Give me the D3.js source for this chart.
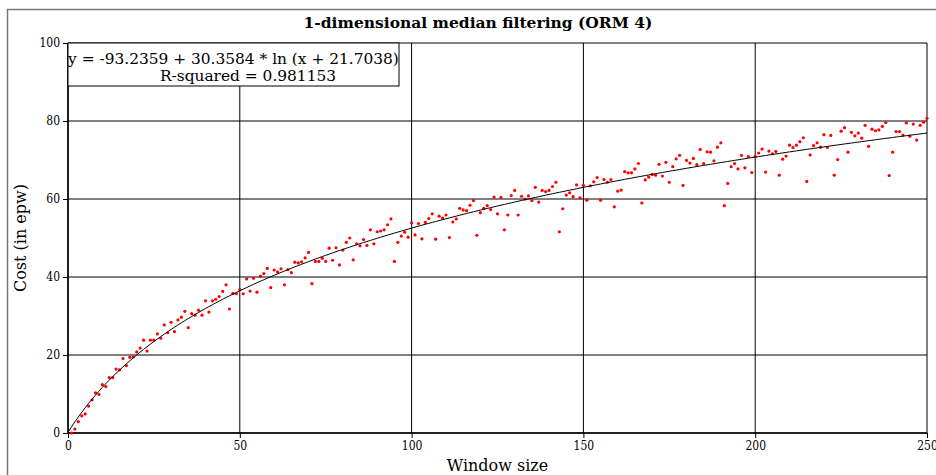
<!DOCTYPE html>
<html>
<head>
<meta charset="utf-8">
<script src="https://cdn.jsdelivr.net/npm/d3@7"></script>
<style>
	body { margin: 0; background: #fff; }
	svg { display: block; }
	.tick text { font-family: 'DejaVu Serif Condensed', 'DejaVu Serif', serif; font-stretch: condensed; font-size: 12px; fill: #000; }
</style>
</head>
<body>
<svg id="chart"></svg>
<script>
	'use strict';

	// cost (in epw) for window sizes 1..250
	var cost = [
		0.0, 1.0, 2.9, 4.4, 4.9, 6.9, 8.5, 10.3, 9.9, 12.4,
		11.9, 14.2, 14.2, 16.4, 16.2, 19.1, 17.3, 19.4, 19.5, 20.8,
		21.8, 23.8, 21.0, 23.8, 23.8, 25.4, 24.3, 27.7, 25.7, 28.4,
		26.0, 29.0, 29.7, 31.2, 27.0, 30.6, 30.2, 31.5, 30.2, 33.9,
		31.0, 33.9, 34.3, 35.0, 36.3, 38.0, 31.8, 35.8, 35.7, 36.8,
		35.7, 39.5, 36.4, 39.7, 36.1, 40.2, 40.9, 42.2, 37.3, 41.8,
		41.3, 42.1, 38.0, 41.9, 41.1, 43.8, 43.6, 43.9, 44.9, 46.3,
		38.3, 44.0, 44.0, 44.8, 44.0, 47.4, 44.3, 47.5, 43.1, 46.9,
		48.9, 50.0, 44.4, 48.5, 48.0, 49.6, 48.1, 52.1, 48.5, 51.6,
		51.8, 52.1, 53.4, 54.9, 44.0, 48.9, 50.5, 51.5, 50.2, 53.9,
		50.8, 53.7, 49.8, 54.0, 55.0, 56.2, 49.7, 55.6, 55.1, 55.9,
		50.1, 54.1, 54.9, 57.6, 57.2, 57.0, 58.4, 59.6, 50.7, 56.5,
		57.6, 58.3, 57.3, 60.5, 56.2, 60.4, 52.1, 55.9, 60.9, 62.2,
		55.9, 60.7, 60.0, 60.8, 59.6, 63.0, 59.2, 62.2, 61.9, 62.2,
		63.2, 64.3, 51.6, 57.5, 61.0, 61.6, 60.6, 63.6, 60.3, 63.5,
		59.7, 63.4, 64.4, 65.5, 59.7, 65.0, 64.3, 65.0, 58.0, 62.0,
		62.3, 67.0, 66.7, 66.7, 67.7, 69.1, 59.0, 64.9, 65.6, 66.3,
		66.1, 68.9, 65.9, 69.4, 64.3, 68.3, 70.3, 71.2, 63.5, 69.9,
		69.2, 70.4, 68.8, 72.7, 69.1, 72.1, 72.0, 69.8, 73.3, 74.4,
		58.3, 64.0, 68.3, 69.1, 67.7, 71.2, 68.0, 70.9, 66.8, 70.9,
		71.8, 72.8, 66.9, 72.3, 71.6, 72.2, 66.1, 70.2, 71.0, 73.8,
		73.2, 73.8, 74.7, 75.7, 64.5, 71.3, 73.7, 74.4, 73.3, 76.5,
		73.2, 76.3, 66.1, 70.1, 77.4, 78.3, 72.0, 77.1, 76.2, 76.9,
		75.6, 78.9, 73.5, 77.9, 77.5, 77.7, 78.6, 79.6, 66.0, 72.0,
		77.3, 77.3, 76.4, 79.5, 76.1, 79.2, 75.1, 78.9, 79.7, 80.7
	];
	var windowSize = d3.range(1, cost.length + 1);

	var xTicks = [0, 50, 100, 150, 200, 250];
	var yTicks = [0, 20, 40, 60, 80, 100];

	// logarithmic fit shown in the legend box
	var fitA = -93.2359, fitB = 30.3584, fitC = 21.7038;
	var rSquared = 0.981153;

	var width = 936, height = 475;
	var margin = {top: 43, right: 9, bottom: 42, left: 68};

	var svg = d3.select('#chart')
		.attr('width', width)
		.attr('height', height);

	// outer frame (cut by the picture edge)
	svg.append('rect')
		.attr('x', 7.5)
		.attr('y', 9.5)
		.attr('width', 1000)
		.attr('height', 1000)
		.attr('fill', 'none')
		.attr('stroke', '#777')
		.attr('stroke-width', 1.5);

	var x = d3.scaleLinear()
		.domain([0, 250])
		.range([margin.left, width - margin.right]);
	var y = d3.scaleLinear()
		.domain([0, 100])
		.range([height - margin.bottom, margin.top]);

	// grid
	svg.append('g')
		.selectAll('line')
		.data(yTicks)
		.enter().append('line')
		.attr('x1', x(0))
		.attr('x2', x(250))
		.attr('y1', function (d) { return y(d); })
		.attr('y2', function (d) { return y(d); })
		.attr('stroke', '#000')
		.attr('stroke-width', 1);
	svg.append('g')
		.selectAll('line')
		.data(xTicks)
		.enter().append('line')
		.attr('x1', function (d) { return x(d); })
		.attr('x2', function (d) { return x(d); })
		.attr('y1', y(0))
		.attr('y2', y(100))
		.attr('stroke', '#000')
		.attr('stroke-width', 1);

	// axes
	var xAxis = svg.append('g')
		.attr('transform', 'translate(0,' + y(0) + ')')
		.call(d3.axisBottom(x).tickValues(xTicks).tickSizeInner(5).tickSizeOuter(0).tickPadding(3));
	var yAxis = svg.append('g')
		.attr('transform', 'translate(' + x(0) + ',0)')
		.call(d3.axisLeft(y).tickValues(yTicks).tickSizeInner(5).tickSizeOuter(0).tickPadding(3));
	xAxis.select('.domain').remove();
	yAxis.select('.domain').remove();

	svg.append('line')
		.attr('x1', x(0)).attr('x2', x(250))
		.attr('y1', y(0)).attr('y2', y(0))
		.attr('stroke', '#000').attr('stroke-width', 1.5);
	svg.append('line')
		.attr('x1', x(0)).attr('x2', x(0))
		.attr('y1', y(0)).attr('y2', y(100))
		.attr('stroke', '#000').attr('stroke-width', 1.5);

	// data points
	svg.append('g')
		.selectAll('circle')
		.data(cost)
		.enter().append('circle')
		.attr('cx', function (d, i) { return x(windowSize[i]); })
		.attr('cy', function (d) { return y(d); })
		.attr('r', 1.6)
		.attr('fill', '#ff0000');

	// fitted curve
	var fitLine = d3.line()
		.x(function (d) { return x(d); })
		.y(function (d) { return y(fitA + fitB * Math.log(d + fitC)); });
	svg.append('path')
		.datum(d3.range(0, 250.5, 1))
		.attr('fill', 'none')
		.attr('stroke', '#000')
		.attr('stroke-width', 1)
		.attr('d', fitLine);

	// legend box with the fit
	svg.append('rect')
		.attr('x', x(0))
		.attr('y', y(100))
		.attr('width', 331)
		.attr('height', 43)
		.attr('fill', '#fff')
		.attr('stroke', '#000')
		.attr('stroke-width', 1);
	var legend = svg.append('g')
		.attr('font-family', 'DejaVu Serif, serif')
		.attr('font-size', 15.4)
		.attr('fill', '#000');
	legend.append('text')
		.attr('x', x(0) + 165.5)
		.attr('y', 64)
		.attr('text-anchor', 'middle')
		.text('y = ' + fitA + ' + ' + fitB + ' * ln (x + ' + fitC + ')');
	legend.append('text')
		.attr('x', 248)
		.attr('y', 81)
		.attr('text-anchor', 'middle')
		.text('R-squared = ' + rSquared);

	// titles
	svg.append('text')
		.attr('x', 478)
		.attr('y', 28)
		.attr('text-anchor', 'middle')
		.attr('font-family', 'DejaVu Serif, serif')
		.attr('font-weight', 'bold')
		.attr('font-size', 15.5)
		.text('1-dimensional median filtering (ORM 4)');
	svg.append('text')
		.attr('x', (x(0) + x(250)) / 2)
		.attr('y', 471)
		.attr('text-anchor', 'middle')
		.attr('font-family', 'DejaVu Serif, serif')
		.attr('font-size', 16)
		.text('Window size');
	svg.append('text')
		.attr('transform', 'translate(26,' + y(50) + ') rotate(-90)')
		.attr('text-anchor', 'middle')
		.attr('font-family', 'DejaVu Serif, serif')
		.attr('font-size', 16)
		.text('Cost (in epw)');
</script>
</body>
</html>
